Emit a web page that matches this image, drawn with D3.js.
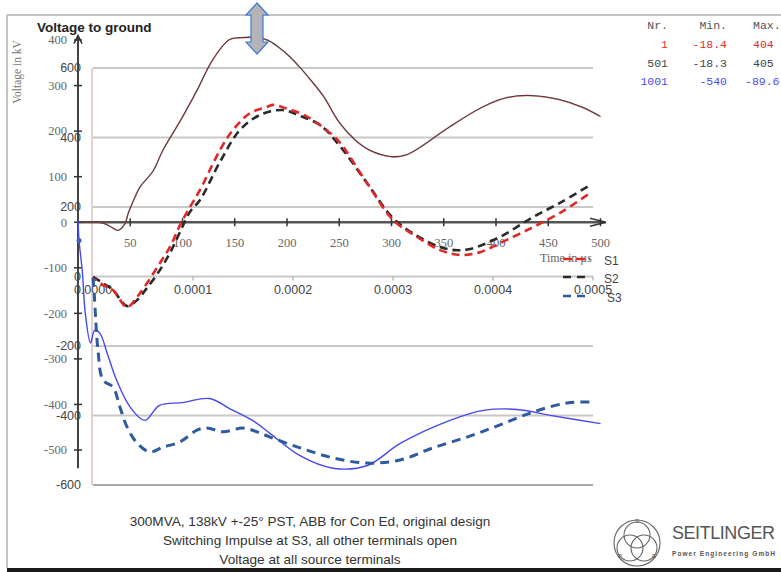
<!DOCTYPE html>
<html>
<head>
<meta charset="utf-8">
<script src="https://cdn.jsdelivr.net/npm/d3@7"></script>
<style>
  body { margin: 0; background: #fff; }
  svg { display: block; }
</style>
</head>
<body>
<div id="chart"></div>
<script>
// chart A (time in µs) : solid curves
const s1Solid = [[0,0],[24,-2],[35,-15],[38,-18],[45,-2],[48,20],[53,48],[59,77],[72,114],[81,158],[98,224],[114,290],[129,356],[145,400],[155,404],[172,404],[182,398],[192,383],[202,364],[212,340],[222,313],[235,275],[250,218],[265,180],[280,156],[300,143],[314,147],[327,163],[356,209],[388,253],[411,273],[435,277],[461,268],[483,251],[500,231]];
const s2Solid = [[0,0],[24,-2],[35,-15],[38,-18],[45,-3],[48,19],[53,47],[59,76],[72,113],[81,157],[98,223],[114,290],[129,357],[145,401],[155,405],[172,405],[182,399],[192,384],[202,365],[212,341],[222,314],[235,276],[250,219],[265,181],[280,157],[300,144],[314,148],[327,164],[356,210],[388,254],[411,274],[435,278],[461,269],[483,252],[500,232]];
const s3Solid = [[0,4],[1,-40],[4,-105],[7,-200],[12,-265],[16,-237],[21,-244],[28,-288],[37,-347],[50,-406],[64,-435],[78,-402],[100,-396],[126,-387],[145,-409],[167,-435],[184,-464],[212,-512],[244,-540],[277,-534],[308,-486],[356,-435],[388,-413],[420,-411],[452,-424],[500,-442]];

// chart B (time in s) : dashed curves
const s1Dash = [[0,-5],[1e-5,-24],[2e-5,-39],[3.4e-5,-88],[4.4e-5,-59],[5.4e-5,-19],[6.7e-5,39],[7.7e-5,85],[8.7e-5,148],[9.7e-5,200],[1.07e-4,249],[1.27e-4,364],[1.4e-4,422],[1.57e-4,470],[1.74e-4,488],[1.8e-4,494],[1.92e-4,485],[2.07e-4,470],[2.2e-4,450],[2.37e-4,413],[2.47e-4,385],[2.74e-4,269],[3.0e-4,163],[3.24e-4,114],[3.47e-4,76],[3.67e-4,62],[3.87e-4,70],[4.07e-4,96],[4.4e-4,142],[4.67e-4,183],[4.97e-4,240]];
const s2Dash = [[0,-1],[1e-5,-19],[2e-5,-39],[3.4e-5,-85],[4.4e-5,-68],[5.4e-5,-33],[6.7e-5,19],[7.7e-5,68],[8.7e-5,128],[9.7e-5,186],[1.07e-4,220],[1.27e-4,330],[1.47e-4,422],[1.67e-4,465],[1.9e-4,479],[2.07e-4,462],[2.27e-4,436],[2.47e-4,375],[2.74e-4,269],[3.0e-4,168],[3.24e-4,117],[3.47e-4,85],[3.62e-4,76],[3.77e-4,79],[4.07e-4,114],[4.4e-4,171],[4.67e-4,212],[4.97e-4,263]];
const s3Dash = [[0,-4],[1e-6,-39],[2e-6,-88],[5e-6,-212],[1e-5,-298],[2e-5,-318],[2.7e-5,-376],[3.4e-5,-433],[4.4e-5,-479],[5.7e-5,-505],[7e-5,-491],[8.7e-5,-476],[1.04e-4,-442],[1.14e-4,-436],[1.3e-4,-447],[1.5e-4,-436],[1.64e-4,-447],[1.77e-4,-462],[2.07e-4,-493],[2.4e-4,-522],[2.74e-4,-537],[3.07e-4,-528],[3.4e-4,-493],[3.74e-4,-462],[4.07e-4,-427],[4.4e-4,-390],[4.74e-4,-364],[5e-4,-361]];

const ticksAx = [50,100,150,200,250,300,350,400,450,500];
const ticksAy = [400,300,200,100,0,-100,-200,-300,-400,-500];
const ticksBx = [0,0.0001,0.0002,0.0003,0.0004,0.0005];
const ticksBy = [600,400,200,0,-200,-400,-600];

const tableHead = ["Nr.","Min.","Max."];
const tableRows = [["1","-18.4","404"],["501","-18.3","405"],["1001","-540","-89.6"]];
const tableColors = ["#e03030","#444","#4a4af0"];

const legendNames = ["S1","S2","S3"];
const captionLines = ["300MVA, 138kV +-25° PST, ABB for Con Ed, original design","Switching Impulse at S3, all other terminals open","Voltage at all source terminals"];

const W = 781, H = 572;
const svg = d3.select("#chart").append("svg").attr("width", W).attr("height", H);

const serif = "'Liberation Serif', 'Times New Roman', serif";
const sans = "'Liberation Sans', Arial, sans-serif";
const mono = "'Liberation Mono', 'Courier New', monospace";

// frame
svg.append("line").attr("x1",7).attr("x2",W).attr("y1",15).attr("y2",15).attr("stroke","#c4c4c4").attr("stroke-width",2);
svg.append("line").attr("x1",7).attr("x2",7).attr("y1",15).attr("y2",568).attr("stroke","#c4c4c4").attr("stroke-width",2);
svg.append("line").attr("x1",7).attr("x2",W).attr("y1",570).attr("y2",570).attr("stroke","#1a1a1a").attr("stroke-width",4);

// scales
const xA = d3.scaleLinear().domain([0,500]).range([78,600.5]);
const yA = d3.scaleLinear().domain([-500,400]).range([450,40]);
const xB = d3.scaleLinear().domain([0,0.0005]).range([93,593]);
const yB = d3.scaleLinear().domain([-600,600]).range([485,68]);

// chart B grid
const gB = svg.append("g");
gB.selectAll("line.grid").data(ticksBy).enter().append("line")
  .attr("x1",xB(0)).attr("x2",xB(0.0005))
  .attr("y1",d => yB(d)).attr("y2",d => yB(d))
  .attr("stroke",d => d === -600 ? "#a8a8a8" : "#c8c8c8").attr("stroke-width",2);
gB.append("line").attr("x1",xB(0)-1).attr("x2",xB(0)-1).attr("y1",yB(600)).attr("y2",yB(-600))
  .attr("stroke","#c9a0a0").attr("stroke-width",1);
gB.selectAll("line.tk").data(ticksBx).enter().append("line")
  .attr("x1",d => xB(d)).attr("x2",d => xB(d)).attr("y1",yB(0)).attr("y2",yB(0)+4)
  .attr("stroke","#999");
gB.selectAll("text.yl").data(ticksBy).enter().append("text")
  .attr("x",81).attr("y",d => yB(d)).attr("dy","0.35em").attr("text-anchor","end")
  .attr("font-family",sans).attr("font-size",12.5).attr("fill","#444").text(d => d);
gB.selectAll("text.xl").data(ticksBx).enter().append("text")
  .attr("x",d => xB(d)).attr("y",yB(0)+17).attr("text-anchor","middle")
  .attr("font-family",sans).attr("font-size",12.5).attr("fill","#444").text(d => d.toFixed(4));

// chart A axes
const gA = svg.append("g");
gA.append("line").attr("x1",xA(0)).attr("x2",xA(0)).attr("y1",yA(-540)).attr("y2",yA(408))
  .attr("stroke","#444").attr("stroke-width",2);
gA.append("path").attr("d",`M${xA(0)-4},${yA(392)} L${xA(0)},${yA(410)} L${xA(0)+4},${yA(392)}`)
  .attr("fill","none").attr("stroke","#333").attr("stroke-width",1.5);
gA.append("line").attr("x1",xA(0)).attr("x2",xA(505)).attr("y1",yA(0)).attr("y2",yA(0))
  .attr("stroke","#555").attr("stroke-width",2.5);
gA.append("path").attr("d",`M${xA(490)},${yA(0)-4} L${xA(505)},${yA(0)} L${xA(490)},${yA(0)+4}`)
  .attr("fill","none").attr("stroke","#333").attr("stroke-width",1.5);
gA.selectAll("line.xt").data(ticksAx).enter().append("line")
  .attr("x1",d => xA(d)).attr("x2",d => xA(d)).attr("y1",yA(0)-4).attr("y2",yA(0)+4)
  .attr("stroke","#333").attr("stroke-width",1.5);
gA.selectAll("line.yt").data(ticksAy).enter().append("line")
  .attr("x1",xA(0)-4).attr("x2",xA(0)+4).attr("y1",d => yA(d)).attr("y2",d => yA(d))
  .attr("stroke","#333").attr("stroke-width",1.5);
gA.selectAll("text.xl").data(ticksAx).enter().append("text")
  .attr("x",d => xA(d)).attr("y",yA(0)+25).attr("text-anchor","middle")
  .attr("font-family",serif).attr("font-size",12.5).attr("fill","#666").text(d => d);
gA.selectAll("text.yl").data(ticksAy).enter().append("text")
  .attr("x",67).attr("y",d => yA(d)).attr("dy","0.35em").attr("text-anchor","end")
  .attr("font-family",serif).attr("font-size",12.5).attr("fill","#666").text(d => d);
gA.append("text").attr("x",540).attr("y",262).attr("font-family",serif).attr("font-size",12)
  .attr("fill","#666").text("Time in µs");
gA.append("text").attr("transform","translate(21,72) rotate(-90)").attr("text-anchor","middle")
  .attr("font-family",serif).attr("font-size",11.5).attr("fill","#777").text("Voltage in kV");
svg.append("text").attr("x",37).attr("y",32).attr("font-family",sans).attr("font-size",13.5)
  .attr("font-weight","bold").attr("fill","#222").text("Voltage to ground");

// curves
const lineA = d3.line().x(d => xA(d[0])).y(d => yA(d[1])).curve(d3.curveCatmullRom);
const lineB = d3.line().x(d => xB(d[0])).y(d => yB(d[1])).curve(d3.curveCatmullRom);

svg.append("path").datum(s2Solid).attr("d",lineA).attr("fill","none").attr("stroke","#4a3434").attr("stroke-width",1.3);
svg.append("path").datum(s1Solid).attr("d",lineA).attr("fill","none").attr("stroke","#c04848").attr("stroke-width",0.7).attr("opacity",0.7);
svg.append("path").datum(s3Solid).attr("d",lineA).attr("fill","none").attr("stroke","#4848f0").attr("stroke-width",1.4);
svg.append("circle").attr("cx",xA(s3Solid[1][0])).attr("cy",yA(s3Solid[1][1])).attr("r",2.5).attr("fill","#4060c0");

svg.append("path").datum(s2Dash).attr("d",lineB).attr("fill","none").attr("stroke","#2a2a2a").attr("stroke-width",2.6).attr("stroke-dasharray","8,5");
svg.append("path").datum(s1Dash).attr("d",lineB).attr("fill","none").attr("stroke","#e02828").attr("stroke-width",2.6).attr("stroke-dasharray","8,5").attr("stroke-dashoffset",4);
svg.append("path").datum(s3Dash).attr("d",lineB).attr("fill","none").attr("stroke","#2e5a9e").attr("stroke-width",3).attr("stroke-dasharray","9,6");

// legend
const legColors = ["#e02828","#2a2a2a","#2e5a9e"];
const legY = [259,277,296];
legendNames.forEach((n,i) => {
  svg.append("line").attr("x1",563).attr("x2",590).attr("y1",legY[i]).attr("y2",legY[i])
    .attr("stroke",legColors[i]).attr("stroke-width",2.6).attr("stroke-dasharray",i === 0 ? "9,4" : "8,6");
  svg.append("text").attr("x",i === 2 ? 607 : 604).attr("y",legY[i]+2).attr("dy","0.35em")
    .attr("font-family",sans).attr("font-size",12).attr("fill","#444").text(n);
});

// table
const colX = [668,727,753];
const colAnchor = ["end","end","start"];
tableHead.forEach((h,j) => {
  svg.append("text").attr("x",colX[j]).attr("y",29).attr("text-anchor",colAnchor[j])
    .attr("font-family",mono).attr("font-size",11.5).attr("fill","#555").text(h);
});
tableRows.forEach((r,i) => {
  r.forEach((v,j) => {
    svg.append("text").attr("x",j === 2 && v.length > 3 ? 745 : colX[j]).attr("y",48 + i*18.5)
      .attr("text-anchor",colAnchor[j]).attr("font-family",mono).attr("font-size",11.5)
      .attr("fill",tableColors[i]).text(v);
  });
});

// double arrow
svg.append("path")
  .attr("d","M257,3 L268,15 L263,15 L263,42 L268,42 L257,54 L246,42 L251,42 L251,15 L246,15 Z")
  .attr("fill","#b4b4b4").attr("stroke","#3a7ad8").attr("stroke-width",1.2);

// caption
captionLines.forEach((t,i) => {
  svg.append("text").attr("x",310).attr("y",526 + i*19).attr("text-anchor","middle")
    .attr("font-family",sans).attr("font-size",13.6).attr("fill","#333").text(t);
});

// logo
const lg = svg.append("g").attr("fill","none").attr("stroke","#666").attr("stroke-width",1.1);
lg.append("circle").attr("cx",637).attr("cy",543).attr("r",23);
[[637,535],[630,548],[644,548]].forEach(c => lg.append("circle").attr("cx",c[0]).attr("cy",c[1]).attr("r",13));
[["S",637,523],["P",620,558],["E",654,558]].forEach(l => {
  svg.append("text").attr("x",l[1]).attr("y",l[2]).attr("text-anchor","middle").attr("font-family",sans)
    .attr("font-size",6).attr("fill","#555").text(l[0]);
});
svg.append("text").attr("x",672).attr("y",539).attr("font-family",sans).attr("font-size",18)
  .attr("fill","#555").attr("textLength",103).text("SEITLINGER");
svg.append("text").attr("x",672).attr("y",556).attr("font-family",sans).attr("font-size",6.5)
  .attr("font-weight","bold").attr("fill","#555").attr("textLength",103).text("Power Engineering GmbH");
</script>
</body>
</html>
